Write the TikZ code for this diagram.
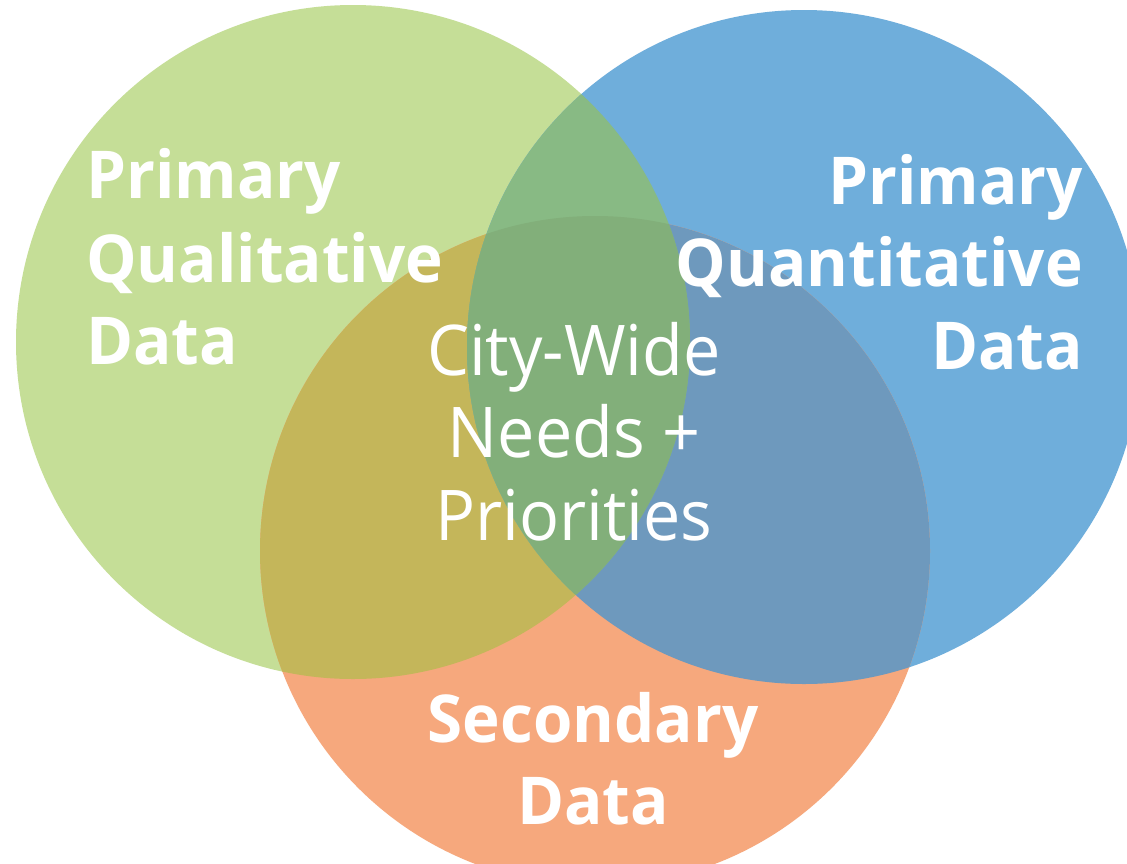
\documentclass[tikz,border=0pt]{standalone}
\usepackage{fontspec}
\setmainfont{Open Sans}
\newfontfamily\labfont[FakeStretch=0.965]{Open Sans}
\newfontfamily\midfont[FakeStretch=0.95]{Open Sans}
\definecolor{cG}{HTML}{C5DE97}
\definecolor{cB}{HTML}{6FAEDB}
\definecolor{cO}{HTML}{F6A87D}
\definecolor{cGO}{HTML}{C4B65A}
\definecolor{cBO}{HTML}{6E99BD}
\definecolor{cGB}{HTML}{88BA84}
\definecolor{cGBO}{HTML}{82AF7A}
\tikzset{
  lab/.style={inner sep=0pt, text=white, font=\labfont\fontsize{66}{79}\selectfont\bfseries},
  mid/.style={inner sep=0pt, text=white, font=\midfont\fontsize{70}{83}\selectfont}
}
\begin{document}
\begin{tikzpicture}[x=1pt,y=-1pt]
\useasboundingbox (0,0) rectangle (1127,863);
\fill[white] (0,0) rectangle (1127,863);
\def\cirG{(353,342) circle (337pt)}
\def\cirB{(804,347) circle (337pt)}
\def\cirO{(595,551) circle (335pt)}
\fill[cG] \cirG;
\fill[cB] \cirB;
\fill[cO] \cirO;
\begin{scope}\clip \cirG; \fill[cGO] \cirO; \end{scope}
\begin{scope}\clip \cirB; \fill[cBO] \cirO; \end{scope}
\begin{scope}\clip \cirG; \fill[cGB] \cirB; \end{scope}
\begin{scope}\clip \cirG; \clip \cirB; \fill[cGBO] \cirO; \end{scope}
% left label
\node[lab, anchor=base west] (l1) at (86,198) {Primary};
\node[lab, anchor=base west] (l2) at (86,282) {Qualitative};
\node[lab, anchor=base west] (l3) at (86,364) {Data};
% right label
\node[lab, anchor=base east] (r1) at (1083,204) {Primary};
\node[lab, anchor=base east] (r2) at (1083,286) {Quantitative};
\node[lab, anchor=base east] (r3) at (1083,369) {Data};
% bottom label
\node[lab, anchor=base] (b1) at (593,742) {Secondary};
\node[lab, anchor=base] (b2) at (593,824) {Data};
% center label
\node[mid, anchor=base] (c1) at (574,375) {City-Wide};
\node[mid, anchor=base] (c2) at (574,457) {Needs +};
\node[mid, anchor=base] (c3) at (574,540) {Priorities};
\end{tikzpicture}
\end{document}
